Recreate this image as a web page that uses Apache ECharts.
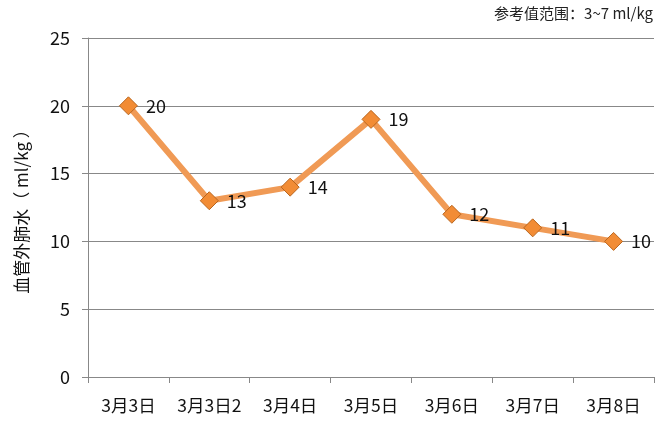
<!DOCTYPE html>
<html><head><meta charset="utf-8">
<script src="https://cdn.jsdelivr.net/npm/echarts@6/dist/echarts.min.js"></script>
<style>html,body{margin:0;padding:0;background:#fff}#c{width:665px;height:423px}</style>
</head><body><div id="c"></div>
<script>
const categories = ['3月3日','3月3日2','3月4日','3月5日','3月6日','3月7日','3月8日'];
const values = [20, 13, 14, 19, 12, 11, 10];
const yTicks = [0, 5, 10, 15, 20, 25];
const yName = '血管外肺水（ ml/kg ）';
const note = '参考值范围：3~7 ml/kg';

const FONT = '"Noto Sans CJK SC", "Noto Sans", sans-serif';
const chart = echarts.init(document.getElementById('c'), null, {renderer:'canvas'});
chart.setOption({
  animation: false,
  textStyle: {fontFamily: FONT},
  graphic: [{
    type: 'text', right: 12, top: 6,
    style: {text: note, font: '15px ' + FONT, fill: '#222'}
  }],
  grid: {left: 88, right: 11, top: 38, bottom: 46},
  xAxis: {
    type: 'category', data: categories, boundaryGap: true,
    axisLine: {lineStyle: {color: '#888', width: 1}},
    axisTick: {show: true, interval: 0, length: 6, lineStyle: {color: '#888'}},
    axisLabel: {interval: 0, fontSize: 17.5, color: '#111', margin: 20, fontFamily: FONT}
  },
  yAxis: {
    type: 'value', min: yTicks[0], max: yTicks[yTicks.length-1], interval: 5,
    name: yName, nameLocation: 'middle', nameGap: 58, nameRotate: 90,
    nameTextStyle: {fontSize: 17, color: '#111', fontFamily: FONT},
    axisLine: {show: true, lineStyle: {color: '#888'}},
    axisTick: {show: true, length: 6, lineStyle: {color: '#888'}},
    axisLabel: {fontSize: 18, color: '#111', margin: 18, fontFamily: FONT},
    splitLine: {lineStyle: {color: '#888', width: 1}}
  },
  series: [{
    type: 'line', data: values,
    symbol: 'diamond', symbolSize: 18,
    lineStyle: {color: '#F09A55', width: 6},
    itemStyle: {color: '#F28C35', borderColor: '#B8651E', borderWidth: 1},
    label: {show: true, position: 'right', distance: 8, fontSize: 18, color: '#111', fontFamily: FONT}
  }]
});
</script></body></html>
